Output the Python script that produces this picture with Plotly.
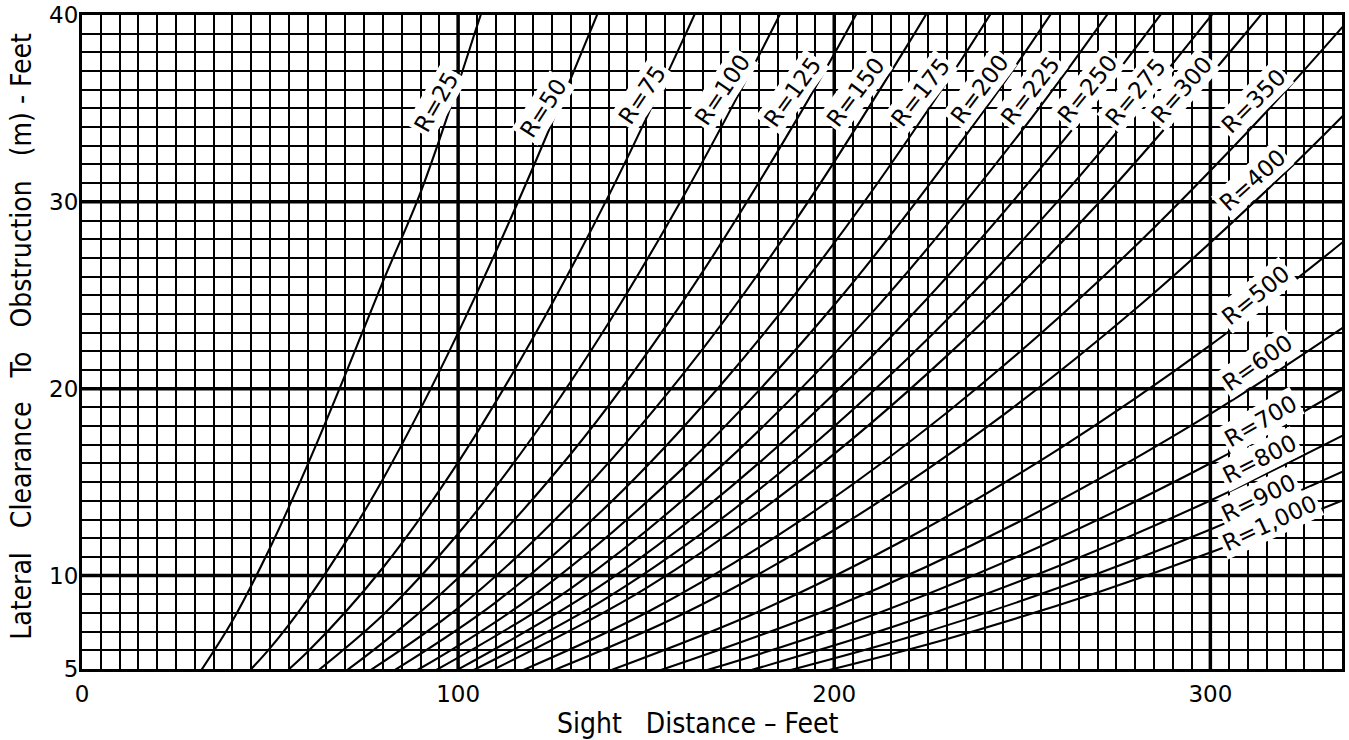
import plotly.graph_objects as go

# ---- data: sight distance S (ft) vs lateral clearance m (ft) ----
radii = [25, 50, 75, 100, 125, 150, 175, 200, 225, 250, 275, 300, 350, 400, 500, 600, 700, 800, 900, 1000]
labels = ["R=25", "R=50", "R=75", "R=100", "R=125", "R=150", "R=175", "R=200", "R=225", "R=250",
          "R=275", "R=300", "R=350", "R=400", "R=500", "R=600", "R=700", "R=800", "R=900", "R=1,000"]

s_r25 = [28, 40, 50, 60, 70, 80, 90, 100, 106, 112]
m_r25 = [3.82, 7.58, 11.49, 15.94, 20.75, 25.73, 30.5, 36.3, 40.0, 43.5]
s_r50 = [40, 50, 60, 70, 80, 90, 100, 110, 120, 130, 140]
m_r50 = [3.95, 6.12, 8.73, 11.76, 15.16, 18.92, 22.99, 27.32, 31.88, 36.62, 41.50]
s_r75 = [50, 60, 80, 100, 120, 140, 160, 170]
m_r75 = [4.13, 5.92, 10.42, 16.06, 22.75, 30.32, 38.76, 43.27]
s_r100 = [60, 80, 100, 120, 140, 160, 180, 190]
m_r100 = [4.47, 7.89, 12.24, 17.47, 23.52, 30.33, 37.84, 41.83]
s_r125 = [60, 70, 100, 130, 160, 190, 210]
m_r125 = [3.58, 4.87, 9.87, 16.52, 24.74, 34.40, 41.57]
s_r150 = [70, 100, 130, 160, 190, 220, 230]
m_r150 = [4.06, 8.26, 13.86, 20.83, 29.09, 38.56, 41.95]
s_r175 = [80, 110, 140, 170, 200, 230, 250]
m_r175 = [4.55, 8.57, 13.81, 20.24, 27.80, 36.44, 42.79]
s_r200 = [80, 90, 120, 160, 200, 240, 260]
m_r200 = [3.99, 5.04, 8.93, 15.79, 24.48, 34.93, 40.78]
s_r225 = [90, 130, 170, 210, 250, 275]
m_r225 = [4.48, 9.32, 15.87, 24.06, 33.84, 40.71]
s_r250 = [100, 140, 180, 220, 260, 290]
m_r250 = [4.98, 9.74, 16.03, 23.81, 33.05, 40.89]
s_r275 = [100, 140, 180, 220, 260, 300, 310]
m_r275 = [4.53, 8.86, 14.60, 21.71, 30.16, 39.91, 42.53]
s_r300 = [110, 150, 190, 230, 270, 310, 320]
m_r300 = [5.03, 9.33, 14.92, 21.77, 29.87, 39.17, 41.66]
s_r350 = [110, 150, 190, 230, 270, 310, 340]
m_r350 = [4.31, 8.01, 12.81, 18.73, 25.71, 33.77, 40.48]
s_r400 = [120, 160, 200, 240, 280, 320, 340]
m_r400 = [4.49, 7.97, 12.44, 17.86, 24.25, 31.58, 35.58]
s_r500 = [140, 180, 220, 260, 300, 340]
m_r500 = [4.89, 8.08, 12.05, 16.81, 22.33, 28.62]
s_r600 = [150, 200, 250, 300, 340]
m_r600 = [4.68, 8.32, 12.97, 18.65, 23.92]
s_r700 = [160, 200, 250, 300, 340]
m_r700 = [4.57, 7.13, 11.13, 16.01, 20.55]
s_r800 = [170, 180, 220, 260, 300, 340]
m_r800 = [4.51, 5.06, 7.55, 10.54, 14.02, 17.99]
s_r900 = [180, 220, 260, 300, 340]
m_r900 = [4.50, 6.71, 9.37, 12.47, 16.01]
s_r1000 = [190, 230, 270, 300, 340]
m_r1000 = [4.51, 6.61, 9.10, 11.23, 14.42]

series_s = [s_r25, s_r50, s_r75, s_r100, s_r125, s_r150, s_r175, s_r200, s_r225, s_r250,
            s_r275, s_r300, s_r350, s_r400, s_r500, s_r600, s_r700, s_r800, s_r900, s_r1000]
series_m = [m_r25, m_r50, m_r75, m_r100, m_r125, m_r150, m_r175, m_r200, m_r225, m_r250,
            m_r275, m_r300, m_r350, m_r400, m_r500, m_r600, m_r700, m_r800, m_r900, m_r1000]

# label placement (data coords) and rotation
label_s = [94.2, 122.7, 148.9, 170.2, 188.9, 205.7, 223.0, 238.7, 252.1, 267.3,
           280.1, 292.3, 311.5, 311.3, 312.1, 312.4, 313.4, 313.1, 312.9, 315.8]
label_m = [35.35, 35.03, 35.72, 35.99, 35.88, 35.88, 35.88, 36.04, 35.93, 36.04,
           35.88, 35.99, 35.40, 31.17, 25.02, 21.38, 18.28, 16.24, 14.16, 12.82]
label_angle = [-60, -57, -56, -56, -54, -53, -52, -53, -52, -51,
               -50, -49, -45, -42, -39, -35, -30, -27, -26, -25]

x_tickvals = [0, 25, 50, 75, 100, 125, 150, 175, 200, 225, 250, 275, 300, 325]
x_ticktext = ["0", "", "", "", "100", "", "", "", "200", "", "", "", "300", ""]
y_tickvals = [5, 10, 15, 20, 25, 30, 35, 40]
y_ticktext = ["5", "10", "", "20", "", "30", "", "40"]
x_major = [100, 200, 300]
y_major = [10, 20, 30]

X_RANGE = [0, 335]
Y_RANGE = [5, 40]

TITLE_FONT = "DejaVu Sans Condensed, Roboto Condensed, Liberation Sans Narrow, Roboto, sans-serif"

fig = go.Figure()
for s, m in zip(series_s, series_m):
    fig.add_trace(go.Scatter(x=s, y=m, mode="lines",
                             line=dict(color="black", width=2.1, shape="spline", smoothing=1.0),
                             showlegend=False, hoverinfo="skip"))

shapes = []
for xv in x_major:
    shapes.append(dict(type="line", xref="x", yref="paper", x0=xv, x1=xv, y0=0, y1=1,
                       line=dict(color="black", width=3.5), layer="below"))
for yv in y_major:
    shapes.append(dict(type="line", xref="paper", yref="y", x0=0, x1=1, y0=yv, y1=yv,
                       line=dict(color="black", width=3.5), layer="below"))

annotations = []
for txt, sx, my, ang in zip(labels, label_s, label_m, label_angle):
    annotations.append(dict(x=sx, y=my, xref="x", yref="y", text=txt, showarrow=False,
                            textangle=ang, bgcolor="white", borderpad=2,
                            font=dict(family="DejaVu Sans", size=23, color="black")))

NB = "\u00a0"
annotations.append(dict(x=0.489, y=0, xref="paper", yref="paper", yshift=-54,
                        xanchor="center", yanchor="middle", showarrow=False,
                        text="Sight" + NB * 3 + "Distance" + NB + "\u2013" + NB + "Feet",
                        font=dict(family=TITLE_FONT, size=28, color="black")))
annotations.append(dict(x=0, y=0.508, xref="paper", yref="paper", xshift=-60,
                        xanchor="center", yanchor="middle", showarrow=False, textangle=-90,
                        text="Lateral" + NB * 3 + "Clearance" + NB * 3 + "To" + NB * 3 +
                        "Obstruction" + NB * 3 + "(m)" + NB + "-" + NB + "Feet",
                        font=dict(family=TITLE_FONT, size=28, color="black")))

fig.update_layout(
    width=1349, height=740,
    margin=dict(l=82, r=7, t=15, b=71),
    paper_bgcolor="white", plot_bgcolor="white",
    shapes=shapes, annotations=annotations,
    xaxis=dict(range=X_RANGE, tickmode="array", tickvals=x_tickvals, ticktext=x_ticktext,
               showgrid=True, gridcolor="black", gridwidth=2.4,
               minor=dict(tickmode="linear", tick0=0, dtick=5, showgrid=True,
                          gridcolor="black", gridwidth=1.6),
               showline=True, linecolor="black", linewidth=3, mirror=True,
               ticks="", ticklabelstandoff=2, zeroline=False, automargin=False,
               ticklabeloverflow="allow",
               tickfont=dict(family="DejaVu Sans", size=23, color="black")),
    yaxis=dict(range=Y_RANGE, tickmode="array", tickvals=y_tickvals, ticktext=y_ticktext,
               showgrid=True, gridcolor="black", gridwidth=2.4,
               minor=dict(tickmode="linear", tick0=0, dtick=1, showgrid=True,
                          gridcolor="black", gridwidth=1.6),
               showline=True, linecolor="black", linewidth=3, mirror=True,
               ticks="", ticklabelstandoff=-4, zeroline=False, automargin=False,
               ticklabeloverflow="allow",
               tickfont=dict(family="DejaVu Sans", size=23, color="black")),
)

fig.write_html("out.html", config={"displayModeBar": False},
               post_script="document.body.style.margin='0';document.body.style.overflow='hidden';")
